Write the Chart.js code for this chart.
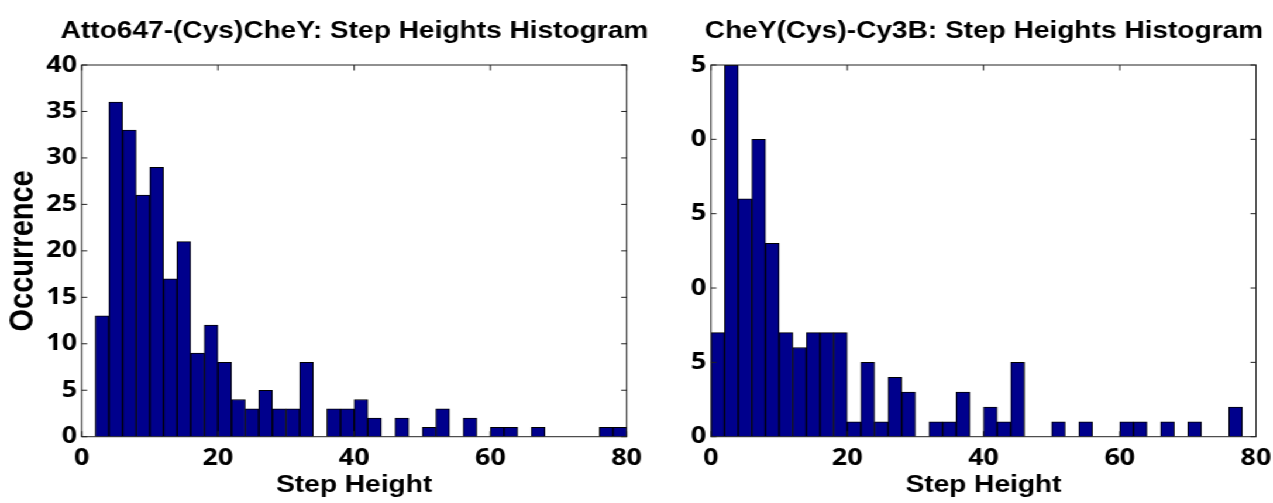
<!DOCTYPE html>
<html><head><meta charset="utf-8">
<script src="https://cdn.jsdelivr.net/npm/chart.js@4/dist/chart.umd.min.js"></script>
<style>
html,body{margin:0;padding:0;background:#fff;overflow:hidden;width:1273px;height:503px;}
#stage{position:absolute;left:0;top:0;width:1088px;height:503px;transform:scaleX(1.17);transform-origin:0 0;}
.panel{position:absolute;top:0;height:503px;}
#p1{left:0;width:606px}
#p2{left:544px;width:594px}
canvas{display:block}
</style></head><body>
<div id="stage">
  <div class="panel" id="p1"><canvas id="c1" width="606" height="503"></canvas></div>
  <div class="panel" id="p2"><canvas id="c2" width="594" height="503"></canvas></div>
</div>
<script>
// Bin centres (bin width 2) along "Step Height"
const binCenters = [1,3,5,7,9,11,13,15,17,19,21,23,25,27,29,31,33,35,37,39,41,43,45,47,49,51,53,55,57,59,61,63,65,67,69,71,73,75,77,79];
// Left panel: Atto647-(Cys)CheY occurrences
const attoCounts = [0,13,36,33,26,29,17,21,9,12,8,4,3,5,3,3,8,0,3,3,4,2,0,2,0,1,3,0,2,0,1,1,0,1,0,0,0,0,1,1];
// Right panel: CheY(Cys)-Cy3B occurrences
const cy3bCounts = [7,25,16,20,13,7,6,7,7,7,1,5,1,4,3,0,1,1,3,0,2,1,5,0,0,1,0,1,0,0,1,1,0,1,0,1,0,0,2,0];

const xTickValues = [0,20,40,60,80];
const leftYTickValues = [0,5,10,15,20,25,30,35,40];
const leftYTickLabels = ['0','5','10','15','20','25','30','35','40'];
const rightYTickValues = [0,5,10,15,20,25];
const rightYTickLabels = ['0','5','0','5','0','5'];
const chartTitles = ['Atto647-(Cys)CheY: Step Heights Histogram','CheY(Cys)-Cy3B: Step Heights Histogram'];
const xAxisTitle = 'Step Height';
const yAxisTitle = 'Occurrence';

const titleFont = {family:'"Liberation Sans", Arial, sans-serif', size:24, weight:'bold', lineHeight:1.2};
const axisTitleFont = {family:'"Liberation Sans", Arial, sans-serif', size:24, weight:'bold', lineHeight:1.2};
const tickFont = {family:'"Open Sans", sans-serif', size:23, weight:'bold', lineHeight:1.2};

const framePlugin = {
  id:'frame',
  afterDatasetsDraw(chart){
    const {ctx, chartArea:a, scales:{x, y}} = chart;
    ctx.save();
    ctx.strokeStyle = '#222';
    ctx.lineWidth = 1;
    ctx.strokeRect(a.left, a.top, a.right - a.left, a.bottom - a.top);
    ctx.beginPath();
    x.ticks.forEach(t => {
      const px = x.getPixelForValue(t.value);
      ctx.moveTo(px, a.top); ctx.lineTo(px, a.top + 5.5);
      ctx.moveTo(px, a.bottom); ctx.lineTo(px, a.bottom - 5.5);
    });
    y.ticks.forEach(t => {
      const py = y.getPixelForValue(t.value);
      ctx.moveTo(a.left, py); ctx.lineTo(a.left + 4.7, py);
      ctx.moveTo(a.right, py); ctx.lineTo(a.right - 4.7, py);
    });
    ctx.stroke();
    ctx.restore();
  }
};

function makeChart(id, title, counts, yMax, yVals, yLabels, yWidth, rightWidth, showYTitle){
  const data = binCenters.map((c, i) => ({x: c, y: counts[i]}));
  return new Chart(document.getElementById(id), {
    type:'bar',
    data:{datasets:[{
      data,
      backgroundColor:'#00008c',
      borderColor:'#000',
      borderWidth:1,
      borderSkipped:'start',
      barPercentage:1,
      categoryPercentage:1
    }]},
    options:{
      responsive:false,
      animation:false,
      devicePixelRatio:1,
      layout:{padding:0},
      plugins:{
        legend:{display:false},
        tooltip:{enabled:false},
        title:{display:true, text:title, fullSize:true, color:'#000', font:titleFont, padding:{top:16.9, bottom:19.3}}
      },
      scales:{
        x:{
          type:'linear', min:0, max:80, offset:false,
          grid:{display:false, drawTicks:false},
          border:{display:false},
          afterBuildTicks: s => { s.ticks = xTickValues.map(v => ({value:v})); },
          ticks:{font:tickFont, color:'#000', padding:8.3, maxRotation:0, autoSkip:false},
          title:{display:true, text:xAxisTitle, color:'#000', font:axisTitleFont, padding:{top:0, bottom:3}},
          afterFit: s => { s.height = 66.3; s.paddingLeft = 0; s.paddingRight = 0; }
        },
        y:{
          type:'linear', min:0, max:yMax,
          grid:{display:false, drawTicks:false},
          border:{display:false},
          afterBuildTicks: s => { s.ticks = yVals.map(v => ({value:v})); },
          ticks:{font:tickFont, color:'#000', padding:4, autoSkip:false,
                 callback:(v, i) => yLabels[i]},
          title:{display:showYTitle, text:yAxisTitle, color:'#000',
                 font:{family:'"Liberation Sans", Arial, sans-serif', size:29, weight:'bold', lineHeight:1.2},
                 padding:{top:3, bottom:0}},
          afterFit: s => { s.width = yWidth; s.paddingTop = 0; s.paddingBottom = 0; }
        },
        yRight:{
          type:'linear', position:'right', min:0, max:1,
          grid:{display:false, drawTicks:false},
          border:{display:false},
          ticks:{display:false},
          afterFit: s => { s.width = rightWidth; s.paddingTop = 0; s.paddingBottom = 0; }
        }
      }
    },
    plugins:[framePlugin]
  });
}

makeChart('c1', chartTitles[0], attoCounts, 40, leftYTickValues, leftYTickLabels, 69.8, 606 - 535.6, true);
makeChart('c2', chartTitles[1], cy3bCounts, 25, rightYTickValues, rightYTickLabels, 63.7, 594 - 529.5, false);
</script>
</body></html>
